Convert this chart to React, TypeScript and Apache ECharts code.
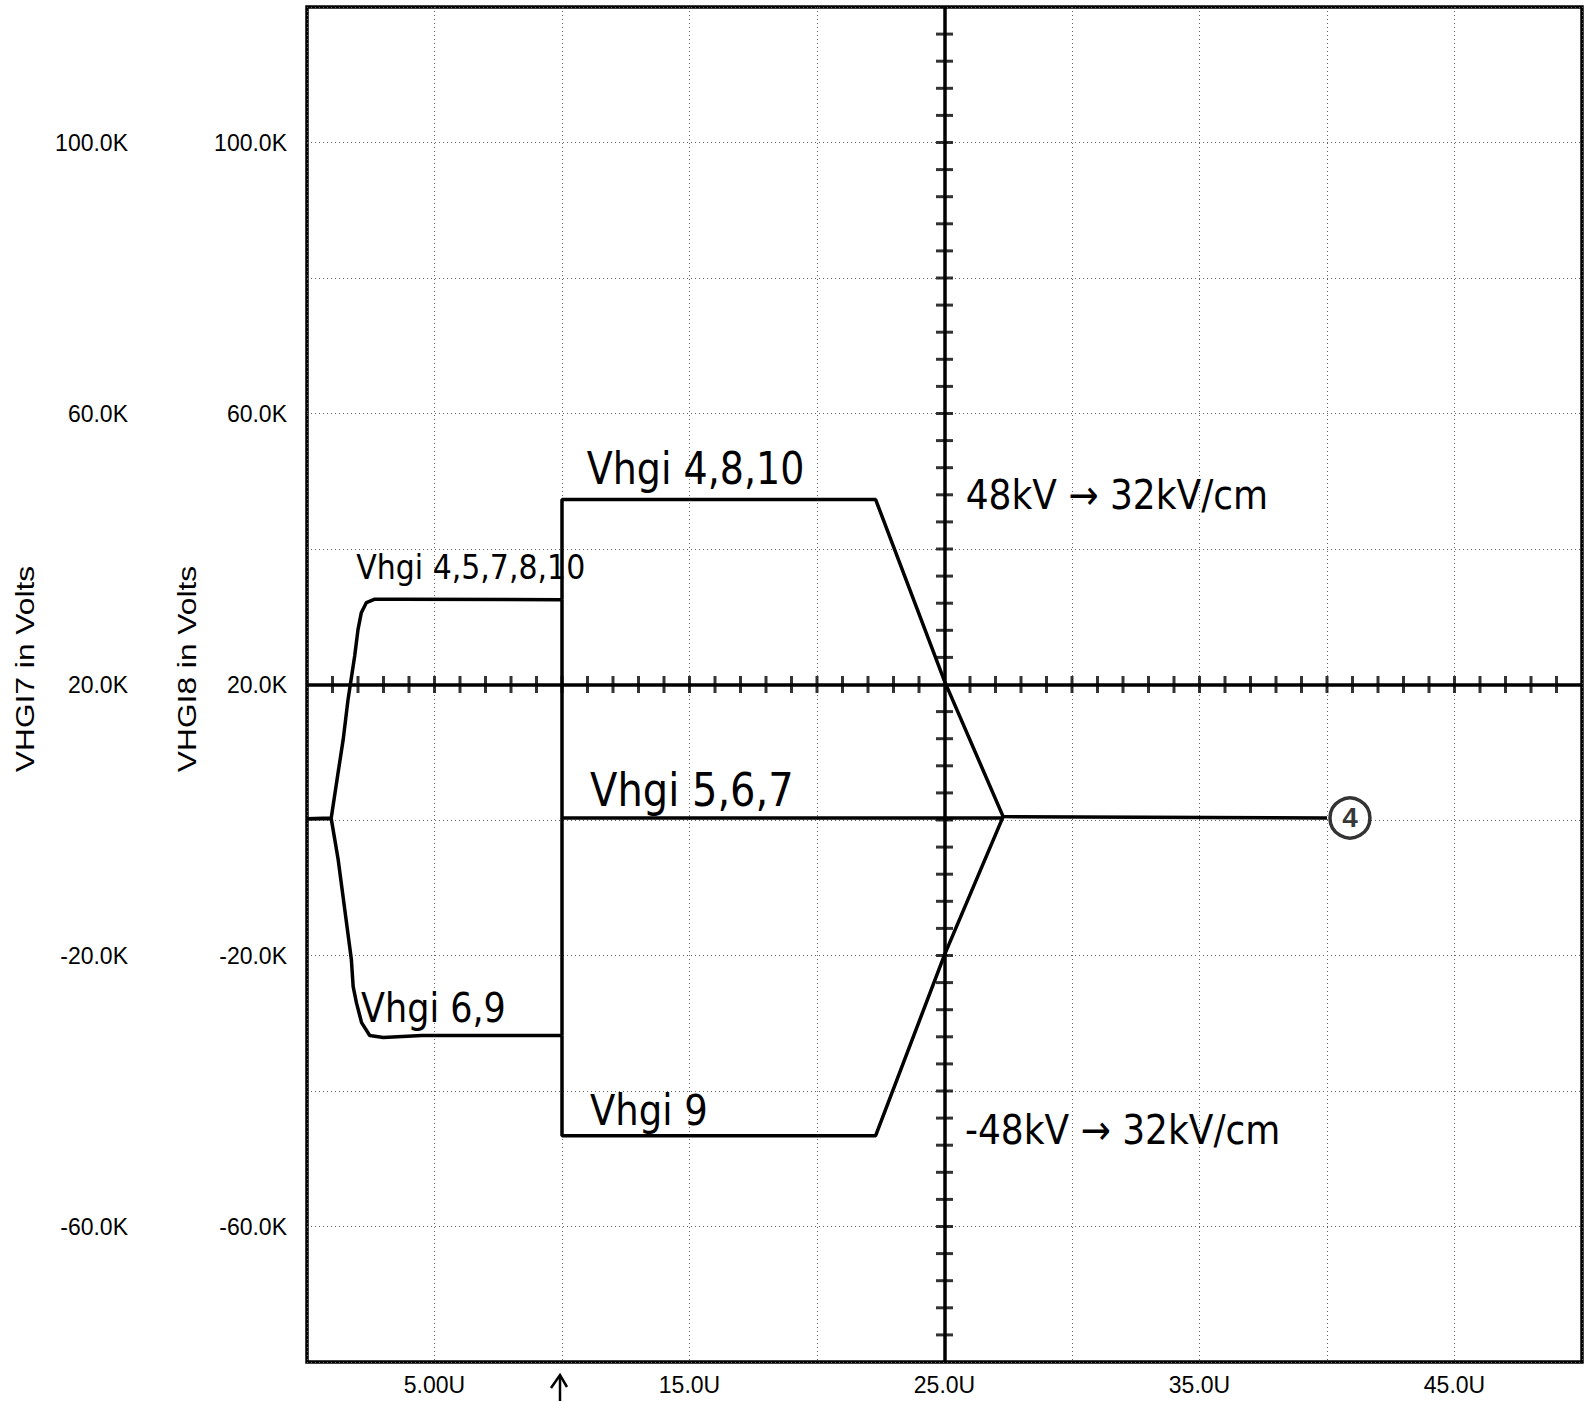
import React, { useEffect, useRef } from "react";
import * as echarts from "echarts";

// Time in microseconds ("U"), voltage in kilovolts ("K")
const riseX = [0, 0.95, 1.22, 1.42, 1.61, 1.87, 2.0, 2.13, 2.33, 2.66, 3.58, 10.0];
const riseY = [0.2, 0.3, 7.0, 11.9, 17.8, 24.2, 28.1, 30.6, 32.1, 32.6, 32.6, 32.5];
const fallX = [0, 0.95, 1.09, 1.22, 1.74, 1.81, 1.94, 2.14, 2.46, 2.99, 4.5, 10.0];
const fallY = [0.2, 0.2, -2.9, -5.8, -20.6, -24.6, -27.0, -29.9, -31.8, -32.1, -31.8, -31.8];
const highX = [10.0, 10.0, 22.3, 25.0, 27.3, 40.0];
const highY = [32.5, 47.3, 47.3, 20.5, 0.5, 0.3];
const lowX = [10.0, 10.0, 22.3, 25.0, 27.3];
const lowY = [-31.8, -46.6, -46.6, -19.9, 0.5];
const midUpX = [10.0, 10.0, 27.3];
const midUpY = [32.5, 0.3, 0.3];
const midDnX = [10.0, 10.0];
const midDnY = [-31.8, 0.3];

const markerX = [40.9];
const markerY = [0.3];
const markerText = ["4"];

const xLabelValues = [5, 15, 25, 35, 45];
const yLabelValues = [-60, -20, 20, 60, 100];
const yTitles = ["VHGI7 in Volts", "VHGI8 in Volts"];

const crossX = 25;
const crossY = 20;

const noteTexts = [
  "Vhgi 4,8,10",
  "48kV → 32kV/cm",
  "Vhgi 4,5,7,8,10",
  "Vhgi 5,6,7",
  "Vhgi 6,9",
  "Vhgi 9",
  "-48kV → 32kV/cm",
];
const noteX = [10.97, 25.83, 1.93, 11.1, 2.12, 11.1, 25.8];
const noteY = [51.8, 48.1, 37.3, 4.5, -27.7, -42.8, -45.7];

const arrowAtX = 10;

const zip = (xs: number[], ys: number[]) => xs.map((x, i) => [x, ys[i]]);

export default function App() {
  const ref = useRef<HTMLDivElement>(null);
  useEffect(() => {
    if (!ref.current) return;
    document.body.style.margin = "0";
    const chart = echarts.init(ref.current, undefined, { renderer: "svg" });
    const font = "Liberation Sans";
    const hand = "DejaVu Sans";

    const hTicks = Array.from({ length: 49 }, (_, i) => i + 1)
      .filter((v) => v !== crossX)
      .map((v) => [v, crossY]);
    const vTicks = Array.from({ length: 49 }, (_, i) => -76 + i * 4)
      .filter((v) => v !== crossY)
      .map((v) => [crossX, v]);

    const line = (name: string, xs: number[], ys: number[]) => ({
      type: "line",
      name,
      data: zip(xs, ys),
      showSymbol: false,
      symbol: "none",
      silent: true,
      z: 5,
      lineStyle: { color: "#000", width: 3.5 },
    });

    const yAxisBase = {
      type: "value",
      min: -80,
      max: 120,
      interval: 20,
      position: "left",
      axisLine: { show: false },
      axisTick: { show: false },
      axisLabel: {
        formatter: (v: number) => (yLabelValues.includes(v) ? v.toFixed(1) + "K" : ""),
        fontSize: 23,
        fontFamily: font,
        color: "#000",
        margin: 20,
        padding: [6, 0, 0, 0],
      },
    };

    chart.setOption({
      animation: false,
      backgroundColor: "#fff",
      grid: {
        left: 307,
        right: 9,
        top: 7,
        bottom: 40,
        show: true,
        borderColor: "#000",
        borderWidth: 3.5,
      },
      xAxis: {
        type: "value",
        min: 0,
        max: 50,
        interval: 5,
        axisLine: { show: false },
        axisTick: { show: false },
        splitLine: { show: true, lineStyle: { color: "#666", width: 1, type: [1, 3] } },
        axisLabel: {
          formatter: (v: number) => (xLabelValues.includes(v) ? v.toPrecision(3) + "U" : ""),
          fontSize: 23,
          fontFamily: font,
          color: "#000",
          margin: 11,
        },
      },
      yAxis: [
        {
          ...yAxisBase,
          offset: 0,
          splitLine: { show: true, lineStyle: { color: "#666", width: 1, type: [1, 3] } },
        },
        { ...yAxisBase, offset: 159, splitLine: { show: false } },
      ],
      series: [
        {
          type: "scatter",
          name: "hticks",
          data: hTicks,
          symbol: "rect",
          symbolSize: [3, 17],
          silent: true,
          z: 4,
          itemStyle: { color: "#000" },
          markLine: {
            silent: true,
            symbol: ["none", "none"],
            label: { show: false },
            lineStyle: { color: "#000", width: 3.5, type: "solid" },
            data: [{ yAxis: crossY }, { xAxis: crossX }],
          },
        },
        {
          type: "scatter",
          name: "vticks",
          data: vTicks,
          symbol: "rect",
          symbolSize: [17, 3],
          silent: true,
          z: 4,
          itemStyle: { color: "#000" },
        },
        line("Vhgi 4,5,7,8,10", riseX, riseY),
        line("Vhgi 6,9", fallX, fallY),
        line("Vhgi 4,8,10", highX, highY),
        line("Vhgi 9", lowX, lowY),
        line("Vhgi 5,7", midUpX, midUpY),
        line("Vhgi 6", midDnX, midDnY),
        {
          type: "scatter",
          name: "marker",
          data: zip(markerX, markerY),
          symbol: "circle",
          symbolSize: 40,
          silent: true,
          z: 8,
          itemStyle: { color: "#fff", borderColor: "#000", borderWidth: 3.5 },
          label: {
            show: true,
            position: "inside",
            formatter: () => markerText[0],
            fontSize: 28,
            fontWeight: "bold",
            fontFamily: font,
            color: "#000",
          },
        },
      ],
    });

    const noteSizes = [38, 36, 30, 40, 35, 37, 36];
    const graphics: any[] = [];
    noteTexts.forEach((t, i) => {
      const p = chart.convertToPixel({ gridIndex: 0 }, [noteX[i], noteY[i]]) as number[];
      graphics.push({
        type: "text",
        x: p[0],
        y: p[1],
        scaleY: 1.15,
        z: 10,
        silent: true,
        style: {
          text: t,
          fontSize: noteSizes[i],
          fontFamily: hand,
          fill: "#000",
          align: "left",
          textAlign: "left",
          verticalAlign: "middle",
          textVerticalAlign: "middle",
        },
      });
    });
    const titleX = [25, 187];
    yTitles.forEach((t, i) => {
      graphics.push({
        type: "text",
        x: titleX[i],
        y: 669,
        rotation: Math.PI / 2,
        scaleX: 1.22,
        silent: true,
        style: {
          text: t,
          fontSize: 26,
          fontFamily: font,
          fill: "#000",
          align: "center",
          textAlign: "center",
          verticalAlign: "middle",
          textVerticalAlign: "middle",
        },
      });
    });
    const ap = chart.convertToPixel({ gridIndex: 0 }, [arrowAtX, 0]) as number[];
    const ax = ap[0] - 2;
    graphics.push({
      type: "line",
      silent: true,
      shape: { x1: ax, y1: 1401, x2: ax, y2: 1376 },
      style: { stroke: "#000", lineWidth: 2.5 },
    });
    graphics.push({
      type: "polyline",
      silent: true,
      shape: { points: [[ax - 9, 1388], [ax, 1375], [ax + 7, 1387]] },
      style: { stroke: "#000", lineWidth: 2.5, fill: "none" },
    });
    chart.setOption({ graphic: graphics });

    return () => chart.dispose();
  }, []);

  return (
    <div
      ref={ref}
      style={{ position: "fixed", left: 0, top: 0, width: 1591, height: 1402 }}
    />
  );
}
